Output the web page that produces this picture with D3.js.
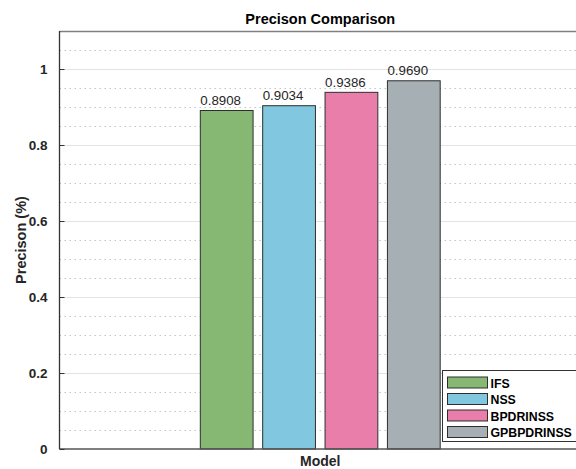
<!DOCTYPE html>
<html>
<head>
<meta charset="utf-8">
<script src="https://cdn.jsdelivr.net/npm/d3@7"></script>
<style>
  html, body { margin: 0; padding: 0; background: #fff; }
  svg { display: block; font-family: "Liberation Sans", Arial, Helvetica, sans-serif; }
</style>
</head>
<body>
<svg id="chart" width="576" height="469"></svg>
<script>
// Precision of each model
const models = ["IFS", "NSS", "BPDRINSS", "GPBPDRINSS"];
const precision = [0.8908, 0.9034, 0.9386, 0.9690];
const barColors = ["#86b874", "#80c7df", "#e87ea9", "#a5afb4"];
const yTicks = [0, 0.2, 0.4, 0.6, 0.8, 1];
const yMinorTicks = d3.range(0.05, 1.1, 0.05).map(v => +v.toFixed(2));

const svg = d3.select("#chart");
const plot = { left: 59.5, right: 581, top: 31, bottom: 449 };

// single group at x = 1, axis spans [0.5, 1.5]
const x = d3.scaleLinear().domain([0.5, 1.5]).range([plot.left, plot.right]);
const y = d3.scaleLinear().domain([0, 1.1]).range([plot.bottom, plot.top]);
const groupHalf = 0.2392;
const band = d3.scaleBand()
  .domain(models)
  .range([x(1 - groupHalf), x(1 + groupHalf)])
  .paddingInner(0.154)
  .paddingOuter(0.077);

// minor grid (dotted)
svg.append("g")
  .selectAll("line")
  .data(yMinorTicks.filter(v => !yTicks.some(t => Math.abs(t - v) < 1e-9)))
  .join("line")
  .attr("x1", plot.left).attr("x2", plot.right)
  .attr("y1", d => Math.round(y(d)) + 0.5).attr("y2", d => Math.round(y(d)) + 0.5)
  .attr("stroke", "#c4c4c4")
  .attr("stroke-width", 1)
  .attr("stroke-dasharray", "1.5,3.5");

// major grid (solid)
svg.append("g")
  .selectAll("line")
  .data(yTicks.filter(v => v > 0))
  .join("line")
  .attr("x1", plot.left).attr("x2", plot.right)
  .attr("y1", d => Math.round(y(d)) + 0.5).attr("y2", d => Math.round(y(d)) + 0.5)
  .attr("stroke", "#e3e3e3")
  .attr("stroke-width", 1.2);

// bars
svg.append("g")
  .selectAll("rect")
  .data(models)
  .join("rect")
  .attr("x", d => band(d))
  .attr("width", band.bandwidth())
  .attr("y", (d, i) => y(precision[i]))
  .attr("height", (d, i) => y(0) - y(precision[i]))
  .attr("fill", (d, i) => barColors[i])
  .attr("stroke", "#2e2e2e")
  .attr("stroke-width", 1);

// value labels
svg.append("g")
  .selectAll("text")
  .data(models)
  .join("text")
  .attr("x", d => band(d))
  .attr("y", (d, i) => y(precision[i]) - 5.5)
  .attr("font-size", 13.3)
  .attr("fill", "#262626")
  .text((d, i) => d3.format(".4f")(precision[i]));

// axes frame
svg.append("line")
  .attr("x1", plot.left).attr("x2", plot.right)
  .attr("y1", plot.top + 0.5).attr("y2", plot.top + 0.5)
  .attr("stroke", "#808080").attr("stroke-width", 1.3);
svg.append("line")
  .attr("x1", plot.left).attr("x2", plot.right)
  .attr("y1", plot.bottom).attr("y2", plot.bottom)
  .attr("stroke", "#555").attr("stroke-width", 1.3);

// y axis
const yAxis = d3.axisLeft(y)
  .tickValues(yTicks)
  .tickSize(-5)
  .tickPadding(12)
  .tickFormat(d => d === 0 ? "0" : d === 1 ? "1" : d3.format(".1f")(d));
const gy = svg.append("g")
  .attr("transform", `translate(${plot.left},0)`)
  .call(yAxis);
gy.select(".domain")
  .attr("d", `M0,${plot.top}V${plot.bottom}`)
  .attr("stroke", "#333").attr("stroke-width", 1.3);
gy.selectAll(".tick line").attr("stroke", "#333");
gy.selectAll(".tick text")
  .attr("font-size", 13.5)
  .attr("font-weight", "bold")
  .attr("font-family", "Liberation Sans, Arial, sans-serif")
  .attr("fill", "#262626");

// title and axis labels
svg.append("text")
  .attr("x", (plot.left + plot.right) / 2)
  .attr("y", 24)
  .attr("text-anchor", "middle")
  .attr("font-size", 14.5)
  .attr("font-weight", "bold")
  .attr("fill", "#000")
  .text("Precison Comparison");

svg.append("text")
  .attr("transform", `translate(26,${(plot.top + plot.bottom) / 2}) rotate(-90)`)
  .attr("text-anchor", "middle")
  .attr("font-size", 14.5)
  .attr("font-weight", "bold")
  .attr("fill", "#262626")
  .text("Precison (%)");

svg.append("text")
  .attr("x", (plot.left + plot.right) / 2)
  .attr("y", 465.5)
  .attr("text-anchor", "middle")
  .attr("font-size", 14)
  .attr("font-weight", "bold")
  .attr("fill", "#262626")
  .text("Model");

// legend
const legend = svg.append("g").attr("transform", "translate(442.5,370.5)");
legend.append("rect")
  .attr("width", 140).attr("height", 71)
  .attr("fill", "#fff")
  .attr("stroke", "#333").attr("stroke-width", 1);
const item = legend.selectAll("g.item")
  .data(models)
  .join("g")
  .attr("class", "item")
  .attr("transform", (d, i) => `translate(5,${6.5 + i * 16.5})`);
item.append("rect")
  .attr("width", 40).attr("height", 11)
  .attr("fill", (d, i) => barColors[i])
  .attr("stroke", "#2e2e2e").attr("stroke-width", 1);
item.append("text")
  .attr("x", 43)
  .attr("y", 10.5)
  .attr("font-size", 12.3)
  .attr("font-weight", "bold")
  .attr("fill", "#000")
  .text(d => d);
</script>
</body>
</html>
